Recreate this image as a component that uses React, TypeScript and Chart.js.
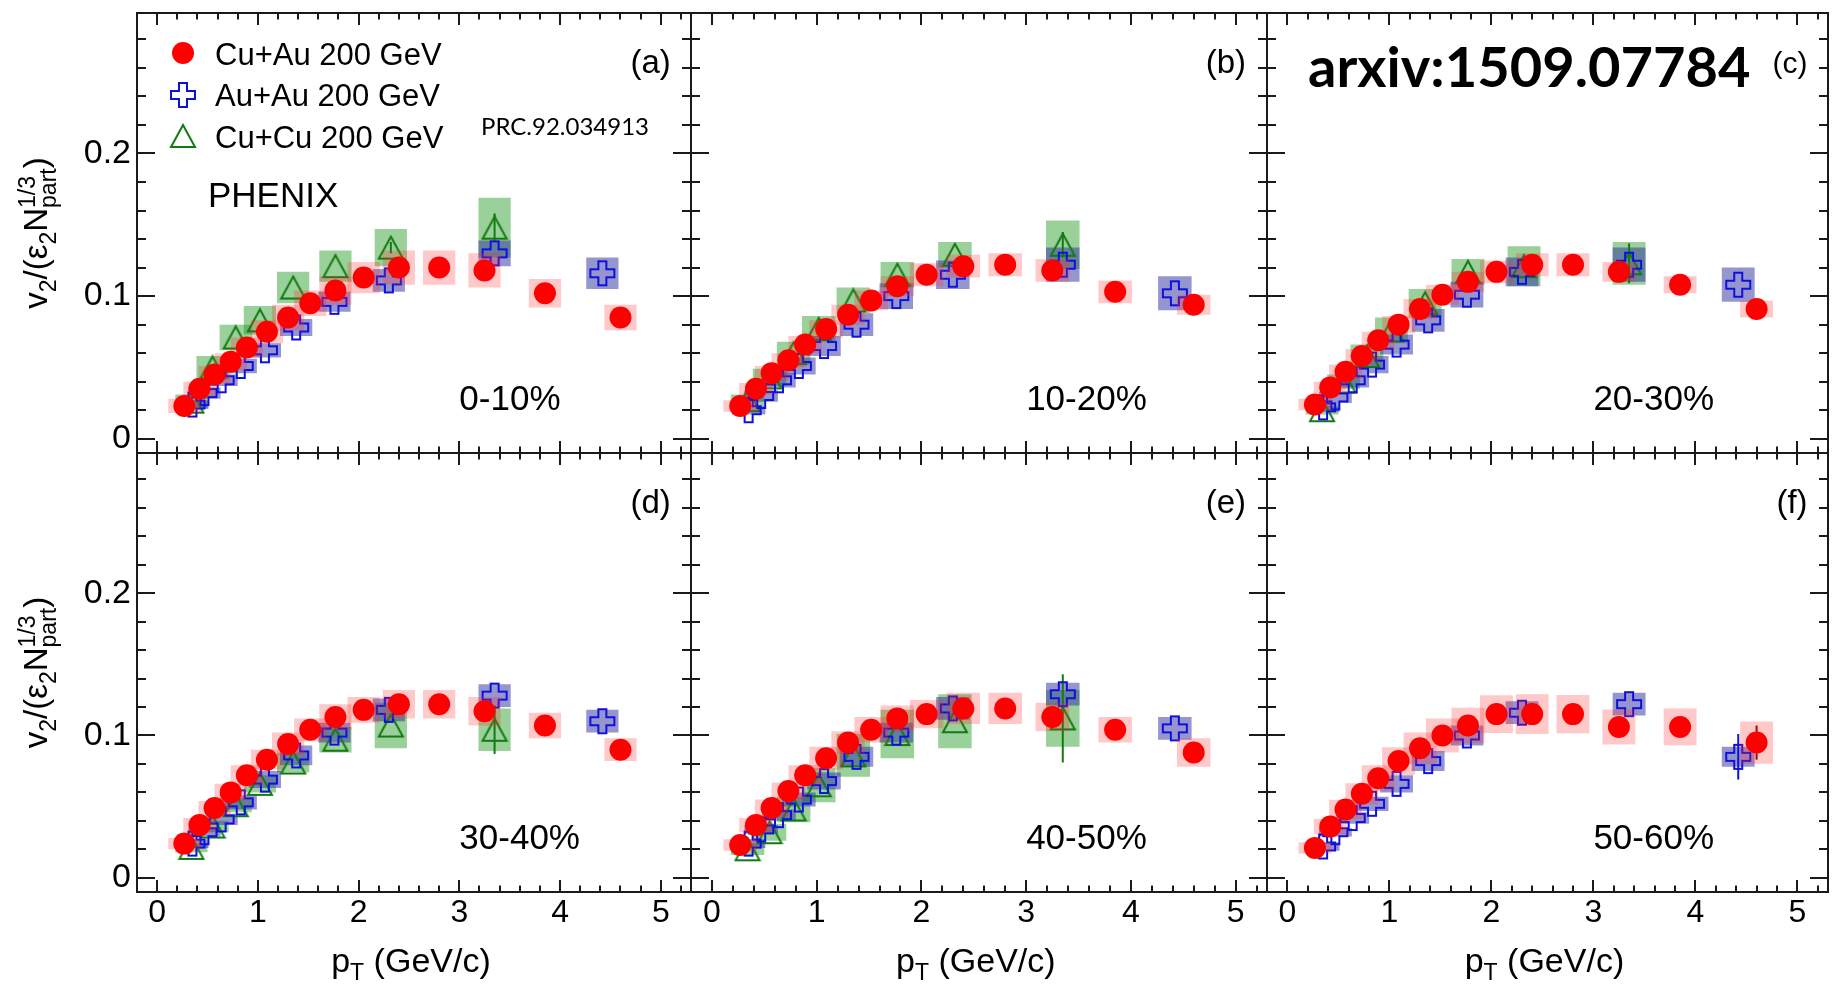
import { useEffect, useRef } from 'react';
import { Chart, registerables } from 'chart.js';

Chart.register(...registerables);

const PAGE_W = 1841;
const PAGE_H = 987;
const FONT = '"Liberation Sans", Arial, Helvetica, sans-serif';
const FONT_CAL = 'Lato, "Open Sans", sans-serif';

// ---------------- data ----------------
const xTickValues = [0, 1, 2, 3, 4, 5];
const xTickLabels = ['0', '1', '2', '3', '4', '5'];
const yTickValues = [0, 0.1, 0.2];
const yTickLabels = ['0', '0.1', '0.2'];

const panelLetters = ['(a)', '(b)', '(c)', '(d)', '(e)', '(f)'];
const centralityLabels = ['0-10%', '10-20%', '20-30%', '30-40%', '40-50%', '50-60%'];
const legendLabels = ['Cu+Au 200 GeV', 'Au+Au 200 GeV', 'Cu+Cu 200 GeV'];

// Cu+Au 200 GeV (red filled circles)
const cuAuPt = [0.27, 0.42, 0.57, 0.73, 0.89, 1.09, 1.3, 1.52, 1.77, 2.05, 2.4, 2.8, 3.25, 3.85, 4.6];
const cuAu_0_10 = [0.023, 0.035, 0.045, 0.054, 0.064, 0.075, 0.085, 0.095, 0.104, 0.113, 0.120, 0.120, 0.118, 0.102, 0.085];
const cuAu_10_20 = [0.023, 0.035, 0.046, 0.055, 0.066, 0.077, 0.087, 0.097, 0.107, 0.115, 0.121, 0.122, 0.118, 0.103, 0.094];
const cuAu_20_30 = [0.024, 0.036, 0.047, 0.058, 0.069, 0.080, 0.091, 0.101, 0.110, 0.117, 0.122, 0.122, 0.117, 0.108, 0.091];
const cuAu_30_40 = [0.024, 0.037, 0.049, 0.060, 0.072, 0.083, 0.094, 0.104, 0.113, 0.118, 0.122, 0.122, 0.117, 0.107, 0.090];
const cuAu_40_50 = [0.023, 0.037, 0.049, 0.061, 0.072, 0.084, 0.095, 0.104, 0.112, 0.115, 0.119, 0.119, 0.113, 0.104, 0.088];
const cuAu_50_60 = [0.021, 0.036, 0.048, 0.059, 0.070, 0.082, 0.091, 0.100, 0.107, 0.115, 0.115, 0.115, 0.106, 0.106, 0.095];
const cuAuSys_0_10 = [0.005, 0.005, 0.006, 0.006, 0.007, 0.008, 0.009, 0.009, 0.010, 0.011, 0.012, 0.012, 0.012, 0.010, 0.009];
const cuAuSys_10_20 = [0.004, 0.004, 0.005, 0.005, 0.006, 0.006, 0.007, 0.007, 0.007, 0.008, 0.008, 0.008, 0.008, 0.008, 0.007];
const cuAuSys_20_30 = [0.004, 0.004, 0.005, 0.005, 0.006, 0.006, 0.007, 0.007, 0.007, 0.008, 0.008, 0.008, 0.007, 0.006, 0.006];
const cuAuSys_30_40 = [0.004, 0.005, 0.005, 0.006, 0.007, 0.007, 0.008, 0.008, 0.009, 0.009, 0.010, 0.010, 0.010, 0.009, 0.008];
const cuAuSys_40_50 = [0.004, 0.005, 0.006, 0.006, 0.007, 0.008, 0.008, 0.009, 0.009, 0.010, 0.011, 0.011, 0.010, 0.009, 0.010];
const cuAuSys_50_60 = [0.004, 0.0055, 0.0068, 0.0074, 0.009, 0.0098, 0.011, 0.012, 0.0125, 0.0133, 0.0139, 0.0135, 0.0123, 0.0129, 0.0148];
const cuAuStat_0_10 = [0, 0, 0, 0, 0, 0, 0, 0, 0, 0, 0, 0, 0, 0, 0];
const cuAuStat_10_20 = [0, 0, 0, 0, 0, 0, 0, 0, 0, 0, 0, 0, 0, 0, 0];
const cuAuStat_20_30 = [0, 0, 0, 0, 0, 0, 0, 0, 0, 0, 0, 0, 0, 0, 0];
const cuAuStat_30_40 = [0, 0, 0, 0, 0, 0, 0, 0, 0, 0, 0, 0, 0, 0, 0];
const cuAuStat_40_50 = [0, 0, 0, 0, 0, 0, 0, 0, 0, 0, 0, 0, 0, 0, 0];
const cuAuStat_50_60 = [0, 0, 0, 0, 0, 0, 0, 0, 0, 0, 0, 0, 0, 0, 0.012];

// Au+Au 200 GeV (blue open crosses)
const auAuPt = [0.35, 0.47, 0.64, 0.83, 1.07, 1.38, 1.76, 2.3, 3.35, 4.42];
const auAu_0_10 = [0.024, 0.032, 0.041, 0.051, 0.062, 0.078, 0.096, 0.111, 0.130, 0.116];
const auAu_10_20 = [0.020, 0.030, 0.041, 0.051, 0.065, 0.080, 0.100, 0.115, 0.122, 0.102];
const auAu_20_30 = [0.022, 0.029, 0.041, 0.052, 0.066, 0.083, 0.101, 0.117, 0.122, 0.108];
const auAu_30_40 = [0.024, 0.032, 0.041, 0.053, 0.069, 0.086, 0.102, 0.118, 0.128, 0.110];
const auAu_40_50 = [0.024, 0.034, 0.044, 0.055, 0.068, 0.085, 0.102, 0.119, 0.129, 0.105];
const auAu_50_60 = [0.022, 0.032, 0.042, 0.052, 0.066, 0.082, 0.100, 0.116, 0.122, 0.085];
const auAuSys_0_10 = [0.003, 0.004, 0.004, 0.005, 0.005, 0.006, 0.007, 0.008, 0.009, 0.011];
const auAuSys_10_20 = [0.003, 0.004, 0.005, 0.006, 0.007, 0.008, 0.009, 0.010, 0.012, 0.012];
const auAuSys_20_30 = [0.003, 0.004, 0.005, 0.006, 0.007, 0.008, 0.009, 0.010, 0.012, 0.012];
const auAuSys_30_40 = [0.003, 0.003, 0.004, 0.005, 0.006, 0.007, 0.007, 0.008, 0.008, 0.008];
const auAuSys_40_50 = [0.003, 0.003, 0.004, 0.005, 0.006, 0.007, 0.007, 0.008, 0.008, 0.008];
const auAuSys_50_60 = [0.003, 0.003, 0.004, 0.005, 0.006, 0.007, 0.007, 0.008, 0.008, 0.007];
const auAuStat_0_10 = [0, 0, 0, 0, 0, 0, 0, 0, 0, 0];
const auAuStat_10_20 = [0, 0, 0, 0, 0, 0, 0, 0, 0, 0];
const auAuStat_20_30 = [0, 0, 0, 0, 0, 0, 0, 0, 0, 0];
const auAuStat_30_40 = [0, 0, 0, 0, 0, 0, 0, 0, 0, 0];
const auAuStat_40_50 = [0, 0, 0, 0, 0, 0, 0, 0, 0, 0];
const auAuStat_50_60 = [0, 0, 0, 0, 0, 0, 0, 0, 0, 0.016];

// Cu+Cu 200 GeV (green open triangles); no 50-60% data
const cuCuPt = [0.34, 0.55, 0.78, 1.02, 1.35, 1.77, 2.32, 3.35];
const cuCu_0_10 = [0.026, 0.050, 0.071, 0.083, 0.106, 0.121, 0.134, 0.148];
const cuCu_10_20 = [0.027, 0.043, 0.060, 0.077, 0.097, 0.115, 0.129, 0.136];
const cuCu_20_30 = [0.020, 0.040, 0.058, 0.076, 0.095, 0.117, 0.121, 0.123];
const cuCu_30_40 = [0.021, 0.036, 0.051, 0.066, 0.081, 0.097, 0.107, 0.104];
const cuCu_40_50 = [0.020, 0.032, 0.048, 0.065, 0.086, 0.101, 0.110, 0.112];
const cuCuSys_0_10 = [0.005, 0.008, 0.009, 0.010, 0.011, 0.011, 0.013, 0.021];
const cuCuSys_10_20 = [0.004, 0.006, 0.008, 0.009, 0.009, 0.009, 0.009, 0.017];
const cuCuSys_20_30 = [0.003, 0.005, 0.008, 0.009, 0.010, 0.009, 0.014, 0.015];
const cuCuSys_30_40 = [0.003, 0.004, 0.005, 0.006, 0.007, 0.009, 0.016, 0.015];
const cuCuSys_40_50 = [0.004, 0.006, 0.009, 0.012, 0.015, 0.017, 0.019, 0.020];
const cuCuStat_0_10 = [0, 0, 0, 0, 0, 0, 0.004, 0.010];
const cuCuStat_10_20 = [0, 0, 0, 0, 0, 0, 0, 0.009];
const cuCuStat_20_30 = [0, 0, 0, 0, 0, 0, 0, 0.014];
const cuCuStat_30_40 = [0, 0, 0, 0, 0, 0, 0, 0.017];
const cuCuStat_40_50 = [0, 0, 0, 0, 0, 0, 0, 0.031];

// ---------------- layout / style ----------------
const X_MIN = -0.2;
const X_MAX = 5.3;
const Y_MIN = -0.01;
const Y_MAX = 0.2985;
const COL_EDGES = [137, 691, 1267, 1832];
const ROW_EDGES = [9, 453, 892];
const Y_AXIS_W = 120;
const X_AXIS_H = 60;

const RED = '#ff0000';
const PINK_BOX = 'rgba(255, 40, 40, 0.25)';
const BLUE_LINE = '#1010dd';
const BLUE_BOX = 'rgba(45, 45, 160, 0.5)';
const GREEN_LINE = '#127a12';
const GREEN_BOX = 'rgba(30, 150, 30, 0.45)';
const FRAME = '#1a1a1a';

type Series = { x: number[]; y: number[]; sys: number[]; stat: number[] };
type PanelSpec = {
  idx: number;
  row: number;
  col: number;
  letter: string;
  cent: string;
  cuAu: Series;
  auAu: Series;
  cuCu: Series | null;
};

const panels: PanelSpec[] = [
  { idx: 0, row: 0, col: 0, letter: panelLetters[0], cent: centralityLabels[0],
    cuAu: { x: cuAuPt, y: cuAu_0_10, sys: cuAuSys_0_10, stat: cuAuStat_0_10 },
    auAu: { x: auAuPt, y: auAu_0_10, sys: auAuSys_0_10, stat: auAuStat_0_10 },
    cuCu: { x: cuCuPt, y: cuCu_0_10, sys: cuCuSys_0_10, stat: cuCuStat_0_10 } },
  { idx: 1, row: 0, col: 1, letter: panelLetters[1], cent: centralityLabels[1],
    cuAu: { x: cuAuPt, y: cuAu_10_20, sys: cuAuSys_10_20, stat: cuAuStat_10_20 },
    auAu: { x: auAuPt, y: auAu_10_20, sys: auAuSys_10_20, stat: auAuStat_10_20 },
    cuCu: { x: cuCuPt, y: cuCu_10_20, sys: cuCuSys_10_20, stat: cuCuStat_10_20 } },
  { idx: 2, row: 0, col: 2, letter: panelLetters[2], cent: centralityLabels[2],
    cuAu: { x: cuAuPt, y: cuAu_20_30, sys: cuAuSys_20_30, stat: cuAuStat_20_30 },
    auAu: { x: auAuPt, y: auAu_20_30, sys: auAuSys_20_30, stat: auAuStat_20_30 },
    cuCu: { x: cuCuPt, y: cuCu_20_30, sys: cuCuSys_20_30, stat: cuCuStat_20_30 } },
  { idx: 3, row: 1, col: 0, letter: panelLetters[3], cent: centralityLabels[3],
    cuAu: { x: cuAuPt, y: cuAu_30_40, sys: cuAuSys_30_40, stat: cuAuStat_30_40 },
    auAu: { x: auAuPt, y: auAu_30_40, sys: auAuSys_30_40, stat: auAuStat_30_40 },
    cuCu: { x: cuCuPt, y: cuCu_30_40, sys: cuCuSys_30_40, stat: cuCuStat_30_40 } },
  { idx: 4, row: 1, col: 1, letter: panelLetters[4], cent: centralityLabels[4],
    cuAu: { x: cuAuPt, y: cuAu_40_50, sys: cuAuSys_40_50, stat: cuAuStat_40_50 },
    auAu: { x: auAuPt, y: auAu_40_50, sys: auAuSys_40_50, stat: auAuStat_40_50 },
    cuCu: { x: cuCuPt, y: cuCu_40_50, sys: cuCuSys_40_50, stat: cuCuStat_40_50 } },
  { idx: 5, row: 1, col: 2, letter: panelLetters[5], cent: centralityLabels[5],
    cuAu: { x: cuAuPt, y: cuAu_50_60, sys: cuAuSys_50_60, stat: cuAuStat_50_60 },
    auAu: { x: auAuPt, y: auAu_50_60, sys: auAuSys_50_60, stat: auAuStat_50_60 },
    cuCu: null },
];

// ---------------- marker images ----------------
let crossImg: HTMLCanvasElement | null = null;
let triImg: HTMLCanvasElement | null = null;

function getCross(): HTMLCanvasElement {
  if (crossImg) return crossImg;
  const s = 24, pad = 2, a = 8;
  const c = document.createElement('canvas');
  c.width = s + 2 * pad;
  c.height = s + 2 * pad;
  const g = c.getContext('2d')!;
  g.strokeStyle = BLUE_LINE;
  g.lineWidth = 2;
  const pts = [[a, 0], [2 * a, 0], [2 * a, a], [s, a], [s, 2 * a], [2 * a, 2 * a], [2 * a, s], [a, s], [a, 2 * a], [0, 2 * a], [0, a], [a, a]];
  g.beginPath();
  pts.forEach(([px, py], i) => (i ? g.lineTo(pad + px, pad + py) : g.moveTo(pad + px, pad + py)));
  g.closePath();
  g.stroke();
  crossImg = c;
  return c;
}

function getTri(): HTMLCanvasElement {
  if (triImg) return triImg;
  const w = 24, h = 22, pad = 2;
  const c = document.createElement('canvas');
  c.width = w + 2 * pad;
  c.height = h + 2 * pad;
  const g = c.getContext('2d')!;
  g.strokeStyle = GREEN_LINE;
  g.lineWidth = 2;
  g.beginPath();
  g.moveTo(pad + w / 2, pad);
  g.lineTo(pad + w, pad + h);
  g.lineTo(pad, pad + h);
  g.closePath();
  g.stroke();
  triImg = c;
  return c;
}

// ---------------- helpers ----------------
const boxData = (s: Series) => s.x.map((x, i) => ({ x, y: [s.y[i] - s.sys[i], s.y[i] + s.sys[i]] }));
const statData = (s: Series) =>
  s.x.map((x, i) => ({ x, y: [s.y[i] - s.stat[i], s.y[i] + s.stat[i]] })).filter((_, i) => s.stat[i] > 0);
const pointData = (s: Series) => s.x.map((x, i) => ({ x, y: s.y[i] }));

type Part = { t: string; f: string; dy: number };
type Seg = Part | { stack: Part[] };

function segWidth(ctx: CanvasRenderingContext2D, s: Seg): number {
  if ('stack' in s) {
    return Math.max(...s.stack.map((p) => { ctx.font = p.f; return ctx.measureText(p.t).width; }));
  }
  ctx.font = s.f;
  return ctx.measureText(s.t).width;
}

function drawSegs(ctx: CanvasRenderingContext2D, segs: Seg[], startX: number) {
  let x = startX;
  for (const s of segs) {
    if ('stack' in s) {
      for (const p of s.stack) { ctx.font = p.f; ctx.fillText(p.t, x, p.dy); }
    } else {
      ctx.font = s.f;
      ctx.fillText(s.t, x, s.dy);
    }
    x += segWidth(ctx, s);
  }
}

function totalWidth(ctx: CanvasRenderingContext2D, segs: Seg[]) {
  return segs.reduce((a, s) => a + segWidth(ctx, s), 0);
}

function drawYTitle(ctx: CanvasRenderingContext2D, baseX: number, cy: number) {
  const big = `33px ${FONT}`;
  const small = `23px ${FONT}`;
  const segs: Seg[] = [
    { t: 'v', f: big, dy: 0 },
    { t: '2', f: small, dy: 9 },
    { t: '/(', f: big, dy: 0 },
    { t: 'ε', f: big, dy: 0 },
    { t: '2', f: small, dy: 9 },
    { t: 'N', f: big, dy: 0 },
    { stack: [{ t: '1/3', f: small, dy: -12 }, { t: 'part', f: small, dy: 9 }] },
    { t: ')', f: big, dy: 0 },
  ];
  ctx.save();
  ctx.translate(baseX, cy);
  ctx.rotate(-Math.PI / 2);
  ctx.fillStyle = '#000';
  ctx.textAlign = 'left';
  ctx.textBaseline = 'alphabetic';
  const w = totalWidth(ctx, segs);
  drawSegs(ctx, segs, -w / 2);
  ctx.restore();
}

function drawXTitle(ctx: CanvasRenderingContext2D, cx: number, baseY: number) {
  const big = `34px ${FONT}`;
  const small = `23px ${FONT}`;
  const segs: Seg[] = [
    { t: 'p', f: big, dy: 0 },
    { t: 'T', f: small, dy: 8 },
    { t: ' (GeV/c)', f: big, dy: 0 },
  ];
  ctx.save();
  ctx.translate(0, baseY);
  ctx.fillStyle = '#000';
  ctx.textAlign = 'left';
  ctx.textBaseline = 'alphabetic';
  const w = totalWidth(ctx, segs);
  drawSegs(ctx, segs, cx - w / 2);
  ctx.restore();
}

function decorPlugin(spec: PanelSpec) {
  return {
    id: 'decor' + spec.idx,
    afterDraw(chart: any) {
      const ctx: CanvasRenderingContext2D = chart.ctx;
      const xs = chart.scales.x;
      const ys = chart.scales.y;
      const ca = chart.chartArea;
      ctx.save();
      // frame
      ctx.strokeStyle = FRAME;
      ctx.lineWidth = 2;
      ctx.strokeRect(ca.left, ca.top, ca.right - ca.left, ca.bottom - ca.top);
      // ticks (inward, all four sides)
      ctx.beginPath();
      for (let k = -1; k <= 27; k++) {
        const v = k * 0.2;
        if (v <= X_MIN + 1e-6 || v >= X_MAX - 1e-6) continue;
        const len = k % 5 === 0 ? 12 : 6.5;
        const px = Math.round(xs.getPixelForValue(v));
        ctx.moveTo(px, ca.bottom);
        ctx.lineTo(px, ca.bottom - len);
        ctx.moveTo(px, ca.top);
        ctx.lineTo(px, ca.top + len);
      }
      for (let k = 0; k <= 15; k++) {
        const v = k * 0.02;
        if (v <= Y_MIN + 1e-6 || v >= Y_MAX - 1e-6) continue;
        const len = k % 5 === 0 ? 18 : 9;
        const py = Math.round(ys.getPixelForValue(v));
        ctx.moveTo(ca.left, py);
        ctx.lineTo(ca.left + len, py);
        ctx.moveTo(ca.right, py);
        ctx.lineTo(ca.right - len, py);
      }
      ctx.stroke();

      ctx.fillStyle = '#000';
      ctx.textBaseline = 'alphabetic';
      // panel letter
      ctx.font = `${spec.idx === 2 ? 30 : 33}px ${FONT}`;
      ctx.textAlign = 'right';
      ctx.fillText(spec.letter, xs.getPixelForValue(5.1), ys.getPixelForValue(0.2565));
      // centrality
      ctx.font = `35px ${FONT}`;
      ctx.textAlign = 'left';
      ctx.fillText(spec.cent, xs.getPixelForValue(3.0), ys.getPixelForValue(0.02));

      if (spec.idx === 0) {
        // legend
        const lx = ca.left + 46;
        ctx.fillStyle = RED;
        ctx.beginPath();
        ctx.arc(lx, 53, 11, 0, Math.PI * 2);
        ctx.fill();
        const cr = getCross();
        ctx.drawImage(cr, lx - cr.width / 2, 95 - cr.height / 2);
        const tr = getTri();
        ctx.drawImage(tr, lx - tr.width / 2, 136 - tr.height / 2);
        ctx.fillStyle = '#000';
        ctx.font = `31px ${FONT}`;
        ctx.textAlign = 'left';
        ctx.fillText(legendLabels[0], ca.left + 78, 65);
        ctx.fillText(legendLabels[1], ca.left + 78, 106);
        ctx.fillText(legendLabels[2], ca.left + 78, 148);
        ctx.font = `35px ${FONT}`;
        ctx.fillText('PHENIX', ca.left + 71, 207);
        ctx.font = `24px ${FONT_CAL}`;
        ctx.fillText('PRC.92.034913', ca.left + 344, 135);
      }
      if (spec.idx === 2) {
        ctx.font = `bold 56px ${FONT_CAL}`;
        ctx.textAlign = 'left';
        ctx.fillText('arxiv:1509.07784', ca.left + 41, 87);
      }
      if (spec.col === 0) {
        drawYTitle(ctx, 47, (ca.top + ca.bottom) / 2);
      }
      if (spec.row === 1) {
        drawXTitle(ctx, xs.getPixelForValue(2.52), 972);
      }
      ctx.restore();
    },
  };
}

function fixFit(scale: any, dim: 'width' | 'height', size: number) {
  scale[dim] = size;
  scale.paddingLeft = 0;
  scale.paddingRight = 0;
  scale.paddingTop = 0;
  scale.paddingBottom = 0;
}

function buildConfig(spec: PanelSpec): any {
  const L = COL_EDGES[spec.col];
  const R = COL_EDGES[spec.col + 1];
  const T = ROW_EDGES[spec.row];
  const B = ROW_EDGES[spec.row + 1];
  const pxPerUnit = (R - L) / (X_MAX - X_MIN);
  const boxW = 0.32 * pxPerUnit;
  const cross = getCross();
  const tri = getTri();

  const datasets: any[] = [];
  const common = { stack: 'all', borderWidth: 0, inflateAmount: 0 };
  if (spec.cuCu) {
    datasets.push({ type: 'bar', label: 'Cu+Cu sys', data: boxData(spec.cuCu), backgroundColor: GREEN_BOX, barThickness: boxW, order: 9, ...common });
  }
  datasets.push({ type: 'bar', label: 'Au+Au sys', data: boxData(spec.auAu), backgroundColor: BLUE_BOX, barThickness: boxW, order: 8, ...common });
  if (spec.cuCu) {
    datasets.push({ type: 'bar', label: 'Cu+Cu stat', data: statData(spec.cuCu), backgroundColor: GREEN_LINE, barThickness: 2, order: 7, ...common });
  }
  datasets.push({ type: 'bar', label: 'Au+Au stat', data: statData(spec.auAu), backgroundColor: BLUE_LINE, barThickness: 2, order: 6, ...common });
  if (spec.cuCu) {
    datasets.push({ type: 'scatter', label: legendLabels[2], data: pointData(spec.cuCu), pointStyle: tri, pointRadius: 12, order: 5 });
  }
  datasets.push({ type: 'scatter', label: legendLabels[1], data: pointData(spec.auAu), pointStyle: cross, pointRadius: 12, order: 4 });
  datasets.push({ type: 'bar', label: 'Cu+Au sys', data: boxData(spec.cuAu), backgroundColor: PINK_BOX, barThickness: boxW, order: 3, ...common });
  datasets.push({ type: 'bar', label: 'Cu+Au stat', data: statData(spec.cuAu), backgroundColor: '#b00000', barThickness: 2, order: 2, ...common });
  datasets.push({ type: 'scatter', label: legendLabels[0], data: pointData(spec.cuAu), pointStyle: 'circle', pointRadius: 11, backgroundColor: RED, borderWidth: 0, order: 1 });

  const showX = spec.row === 1;
  const showY = spec.col === 0;

  return {
    type: 'scatter',
    data: { datasets },
    options: {
      responsive: false,
      maintainAspectRatio: false,
      animation: false,
      events: [],
      layout: {
        padding: {
          left: L - Y_AXIS_W,
          top: T,
          right: PAGE_W - R,
          bottom: PAGE_H - B - X_AXIS_H,
        },
      },
      plugins: { legend: { display: false }, tooltip: { enabled: false } },
      scales: {
        x: {
          type: 'linear',
          position: 'bottom',
          min: X_MIN,
          max: X_MAX,
          offset: false,
          grid: { display: false, drawTicks: false, offset: false },
          border: { display: false },
          ticks: {
            display: showX,
            color: '#000',
            font: { family: FONT, size: 32 },
            padding: 2,
            maxRotation: 0,
            minRotation: 0,
            autoSkip: false,
            callback: (v: any) => {
              const i = xTickValues.indexOf(Number(v));
              return i >= 0 ? xTickLabels[i] : '';
            },
          },
          afterBuildTicks: (s: any) => { s.ticks = xTickValues.map((value) => ({ value })); },
          afterFit: (s: any) => fixFit(s, 'height', X_AXIS_H),
        },
        y: {
          type: 'linear',
          position: 'left',
          min: Y_MIN,
          max: Y_MAX,
          stacked: false,
          beginAtZero: false,
          grid: { display: false, drawTicks: false },
          border: { display: false },
          ticks: {
            display: showY,
            color: '#000',
            font: { family: FONT, size: 34 },
            padding: 6,
            autoSkip: false,
            callback: (v: any) => {
              const i = yTickValues.indexOf(Number(v));
              return i >= 0 ? yTickLabels[i] : '';
            },
          },
          afterBuildTicks: (s: any) => { s.ticks = yTickValues.map((value) => ({ value })); },
          afterFit: (s: any) => fixFit(s, 'width', Y_AXIS_W),
        },
      },
    },
    plugins: [decorPlugin(spec)],
  };
}

function Panel({ spec }: { spec: PanelSpec }) {
  const ref = useRef<HTMLCanvasElement>(null);
  useEffect(() => {
    if (!ref.current) return;
    const chart = new Chart(ref.current, buildConfig(spec));
    return () => chart.destroy();
  }, [spec]);
  return (
    <canvas
      ref={ref}
      width={PAGE_W}
      height={PAGE_H}
      style={{ position: 'absolute', left: 0, top: 0, width: PAGE_W, height: PAGE_H }}
    />
  );
}

export default function App() {
  return (
    <div
      style={{
        position: 'absolute',
        left: 0,
        top: 0,
        width: PAGE_W,
        height: PAGE_H,
        background: '#fff',
        overflow: 'hidden',
      }}
    >
      {panels.map((p) => (
        <Panel key={p.idx} spec={p} />
      ))}
    </div>
  );
}
